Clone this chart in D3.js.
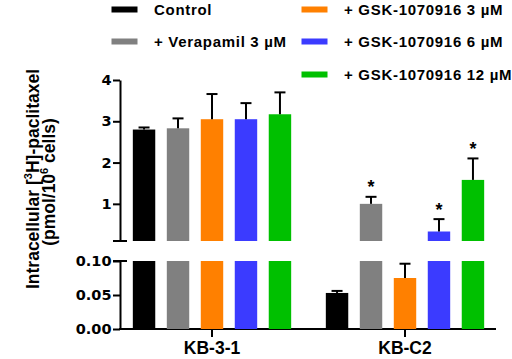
<!DOCTYPE html>
<html>
<head>
<meta charset="utf-8">
<script src="https://cdn.jsdelivr.net/npm/d3@7"></script>
<style>
  body { margin: 0; background: #fff; }
  svg { display: block; font-family: "Liberation Sans", Arial, sans-serif; font-weight: bold; }
  .axis path, .axis line { stroke: #000; stroke-width: 2; }
  .tick-label text { font-family: "DejaVu Sans", sans-serif; font-size: 14.5px; font-weight: bold; fill: #000; }
  .legend text { font-size: 15px; letter-spacing: 0.7px; }
</style>
</head>
<body>
<svg width="512" height="359"></svg>
<script>
// chart data
var groups = ['KB-3-1', 'KB-C2'];
var series = ['Control', '+ Verapamil 3 \u00b5M', '+ GSK-1070916 3 \u00b5M', '+ GSK-1070916 6 \u00b5M', '+ GSK-1070916 12 \u00b5M'];
var colors = ['#000000', '#808080', '#ff8000', '#3b3bff', '#00c000'];
var meanKB31 = [2.80, 2.83, 3.05, 3.05, 3.17];
var errKB31 = [0.05, 0.24, 0.61, 0.39, 0.53];
var meanKBC2 = [0.053, 1.00, 0.075, 0.33, 1.58];
var errKBC2 = [0.003, 0.17, 0.021, 0.30, 0.52];
var sigKBC2 = [false, true, false, true, true];
var upperTicks = [1, 2, 3, 4];
var lowerTicks = [0, 0.05, 0.10];
var breakValue = 0.1;

var svg = d3.select('svg');

// build rows
var rows = [];
groups.forEach(function (g, gi) {
    var means = gi === 0 ? meanKB31 : meanKBC2;
    var errs = gi === 0 ? errKB31 : errKBC2;
    series.forEach(function (s, si) {
        rows.push({
            group: g, series: s, color: colors[si],
            value: means[si], err: errs[si],
            sig: gi === 1 ? sigKBC2[si] : false
        });
    });
});

// scales
var x0 = d3.scaleBand().domain(groups).range([115.5, 501.5]);
var x1 = d3.scaleBand().domain(series).range([0, x0.bandwidth()])
    .paddingInner(0.34).paddingOuter(0.51);
var yTop = d3.scaleLinear().domain([breakValue, 4]).range([241, 80]);
var yBot = d3.scaleLinear().domain([0, breakValue]).range([329, 261]);

var axisX = 120;

// upper y axis
svg.append('g')
    .attr('class', 'axis tick-label')
    .attr('transform', 'translate(' + axisX + ',0)')
    .call(d3.axisLeft(yTop).tickValues(upperTicks).tickSize(7).tickSizeOuter(0).tickPadding(1.5)
        .tickFormat(d3.format('d')));

// lower y axis
svg.append('g')
    .attr('class', 'axis tick-label')
    .attr('transform', 'translate(' + axisX + ',0)')
    .call(d3.axisLeft(yBot).tickValues(lowerTicks).tickSize(7).tickSizeOuter(0).tickPadding(1.5)
        .tickFormat(d3.format('.2f')));

// break marks crossing the axis
svg.append('g').attr('class', 'axis')
    .selectAll('line')
    .data([yTop(breakValue), yBot(breakValue)])
    .enter().append('line')
    .attr('x1', axisX - 7).attr('x2', axisX + 7)
    .attr('y1', function (d) { return d; })
    .attr('y2', function (d) { return d; });

// x axis
var gX = svg.append('g')
    .attr('class', 'axis')
    .attr('transform', 'translate(0,' + yBot(0) + ')')
    .call(d3.axisBottom(x0).tickSize(8).tickPadding(5));
gX.select('.domain').remove();
gX.append('line')
    .attr('x1', axisX - 1).attr('x2', 496)
    .attr('y1', 0).attr('y2', 0);
gX.selectAll('.tick text')
    .style('font-family', '"Liberation Sans", Arial, sans-serif')
    .style('font-size', '17.5px')
    .style('font-weight', 'bold')
    .attr('fill', '#000');

// bars
var barG = svg.append('g');
var bw = x1.bandwidth();
function bx(d) { return x0(d.group) + x1(d.series); }

rows.forEach(function (d) {
    var x = bx(d);
    if (d.value > breakValue) {
        barG.append('rect')
            .attr('x', x).attr('width', bw)
            .attr('y', yTop(d.value))
            .attr('height', yTop(breakValue) - yTop(d.value))
            .attr('fill', d.color);
        barG.append('rect')
            .attr('x', x).attr('width', bw)
            .attr('y', yBot(breakValue))
            .attr('height', yBot(0) - yBot(breakValue))
            .attr('fill', d.color);
    } else {
        barG.append('rect')
            .attr('x', x).attr('width', bw)
            .attr('y', yBot(d.value))
            .attr('height', yBot(0) - yBot(d.value))
            .attr('fill', d.color);
    }

    // error bar (upper only)
    var ys = d.value > breakValue ? yTop : yBot;
    var cx = x + bw / 2;
    var yv = ys(d.value), ye = ys(d.value + d.err);
    barG.append('line')
        .attr('x1', cx).attr('x2', cx)
        .attr('y1', yv).attr('y2', ye)
        .attr('stroke', '#000').attr('stroke-width', 2);
    barG.append('line')
        .attr('x1', cx - 5.5).attr('x2', cx + 5.5)
        .attr('y1', ye).attr('y2', ye)
        .attr('stroke', '#000').attr('stroke-width', 2);

    if (d.sig) {
        barG.append('text')
            .attr('x', cx).attr('y', ye - 3.5)
            .attr('text-anchor', 'middle')
            .style('font-size', '18px')
            .text('*');
    }
});

// y axis title
var title = svg.append('g')
    .attr('transform', 'translate(38.5,179) rotate(-90)')
    .style('font-size', '17.5px');
var t1 = title.append('text').attr('text-anchor', 'middle').attr('x', 0).attr('y', 0);
t1.append('tspan').text('Intracellular [');
t1.append('tspan').attr('dy', -7).style('font-size', '11px').text('3');
t1.append('tspan').attr('dy', 7).text('H]-paclitaxel');
var t2 = title.append('text').attr('text-anchor', 'middle').attr('x', -3).attr('y', 16.5);
t2.append('tspan').text('(pmol/10');
t2.append('tspan').attr('dy', -7).style('font-size', '11px').text('6');
t2.append('tspan').attr('dy', 7).text(' cells)');

// legend
var legendPos = [[111.5, 9.5], [111.5, 41.5], [301.5, 9.5], [301.5, 41.5], [301.5, 74.5]];
var legend = svg.append('g').attr('class', 'legend')
    .selectAll('g')
    .data(series)
    .enter().append('g')
    .attr('transform', function (d, i) { return 'translate(' + legendPos[i] + ')'; });
legend.append('rect')
    .attr('x', 0).attr('y', -3)
    .attr('width', 26).attr('height', 6)
    .attr('fill', function (d, i) { return colors[i]; });
legend.append('text')
    .attr('x', 42.5).attr('y', 5.5)
    .text(function (d) { return d; });
</script>
</body>
</html>
